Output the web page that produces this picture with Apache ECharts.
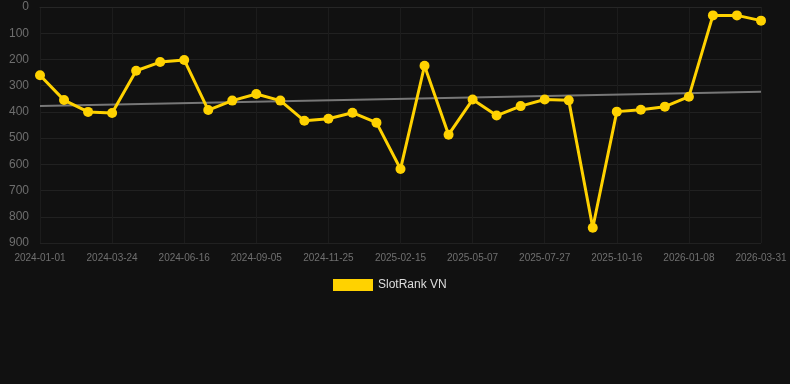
<!DOCTYPE html>
<html><head><meta charset="utf-8">
<script src="https://cdn.jsdelivr.net/npm/echarts@6/dist/echarts.min.js"></script>
<style>html,body{margin:0;padding:0;background:#111111;}#c{width:790px;height:384px;}</style>
</head><body><div id="c"></div>
<script>
const categories = ['2024-01-01','2024-01-28','2024-02-25','2024-03-24','2024-04-21','2024-05-19','2024-06-16','2024-07-13','2024-08-09','2024-09-05','2024-10-02','2024-10-29','2024-11-25','2024-12-22','2025-01-19','2025-02-15','2025-03-14','2025-04-10','2025-05-07','2025-06-03','2025-06-30','2025-07-27','2025-08-23','2025-09-19','2025-10-16','2025-11-13','2025-12-11','2026-01-08','2026-02-04','2026-03-03','2026-03-31'];
const rankValues = [260,355,400,404,243,210,202,393,357,332,357,434,426,403,441,618,224,487,353,414,378,353,356,842,399,392,380,342,32,32,52];
const trendValues = [378,null,null,null,null,null,null,null,null,null,null,null,null,null,null,null,null,null,null,null,null,null,null,null,null,null,null,null,null,null,323];
const yTicks = {min:0,max:900,interval:100};

const chart = echarts.init(document.getElementById('c'));
chart.setOption({
  backgroundColor:'#111111',
  animation:false,
  grid:{left:40,right:29,top:7,bottom:141,containLabel:false},
  legend:{
    data:['SlotRank VN'],
    top:274,left:328,
    itemWidth:40,itemHeight:12,itemGap:10,
    icon:'rect',
    textStyle:{color:'#dddddd',fontSize:12,fontFamily:'Liberation Sans, Arial, sans-serif'}
  },
  xAxis:{
    type:'category',
    data:categories,
    boundaryGap:false,
    axisLine:{show:true,lineStyle:{color:'#262626'}},
    axisTick:{show:false},
    axisLabel:{interval:2,color:'#707070',fontSize:10,margin:10,fontFamily:'Liberation Sans, Arial, sans-serif'},
    splitLine:{show:true,interval:2,lineStyle:{color:'#1c1c1c'}}
  },
  yAxis:{
    type:'value',
    inverse:true,
    min:yTicks.min,max:yTicks.max,interval:yTicks.interval,
    axisLine:{show:false},
    axisTick:{show:false},
    axisLabel:{color:'#6e6e6e',fontSize:12,margin:11,fontFamily:'Liberation Sans, Arial, sans-serif'},
    splitLine:{lineStyle:{color:'#212121'}}
  },
  series:[
    {
      name:'SlotRank VN',
      type:'line',
      data:rankValues,
      symbol:'circle',
      symbolSize:10,
      lineStyle:{color:'#FFD200',width:3},
      itemStyle:{color:'#FFD200'},
      z:3
    },
    {
      name:'trend',
      type:'line',
      data:trendValues,
      connectNulls:true,
      symbol:'none',
      lineStyle:{color:'#777777',width:2},
      z:2
    }
  ]
});
</script></body></html>
